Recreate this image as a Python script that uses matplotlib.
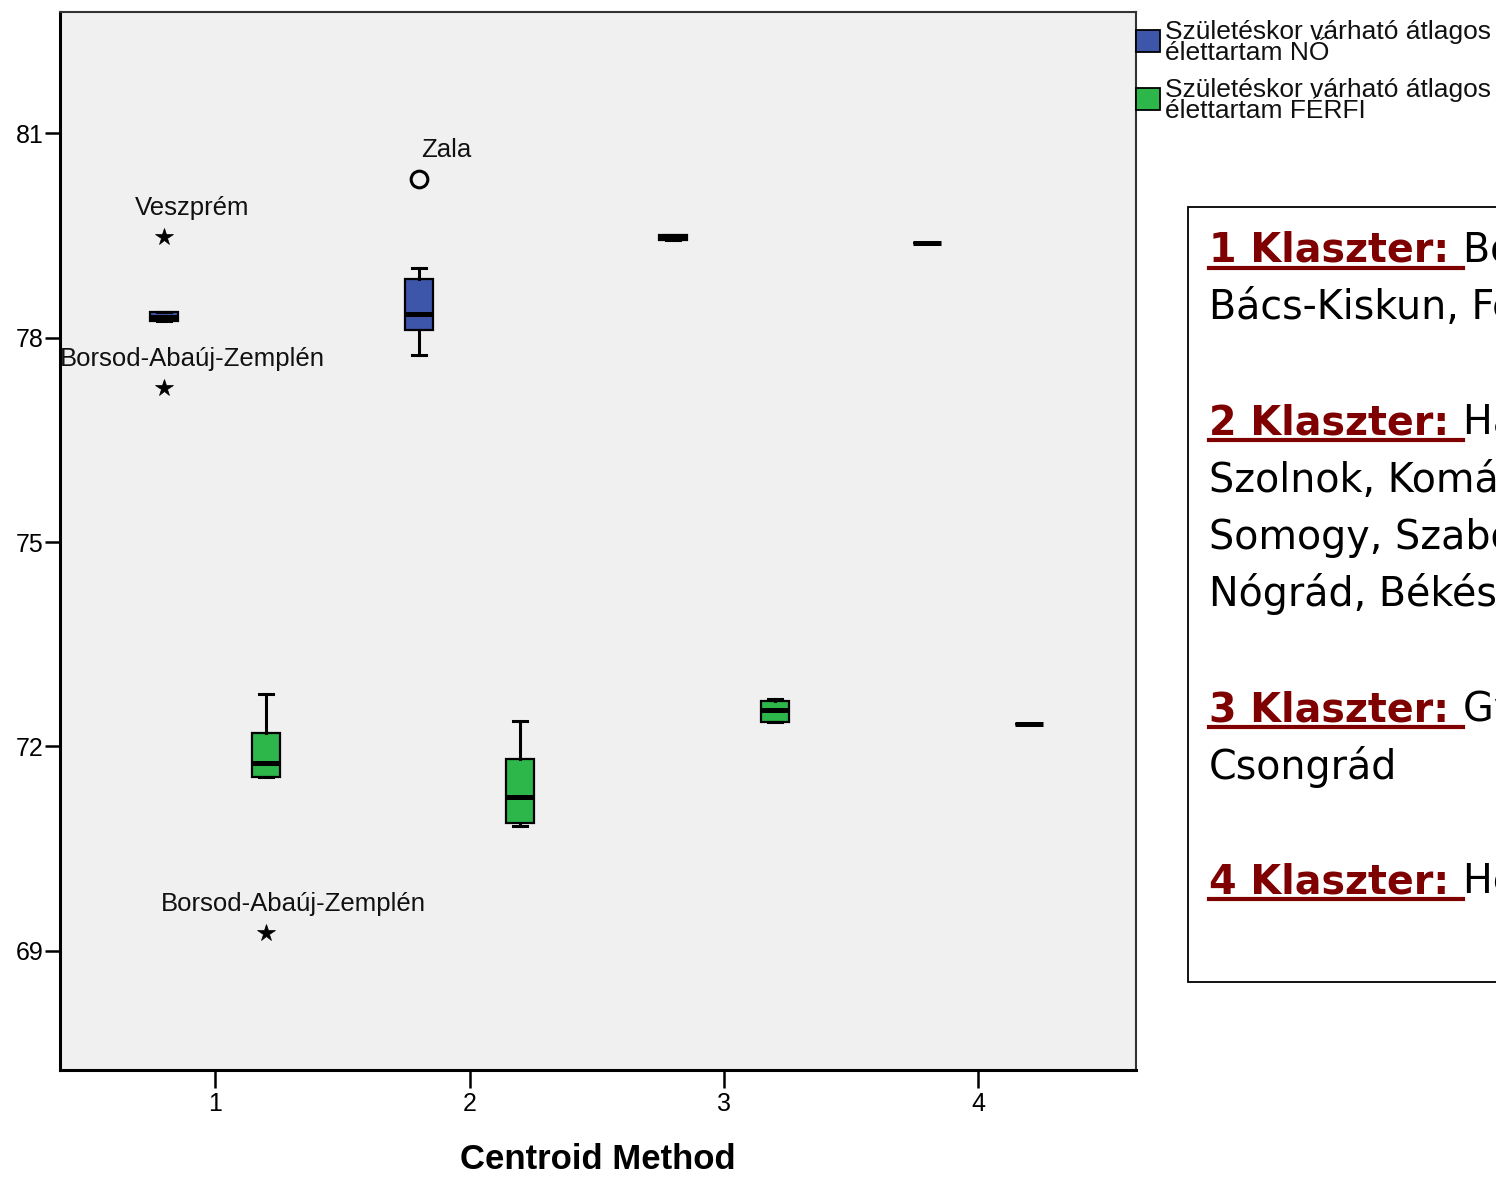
import matplotlib
matplotlib.use("Agg")
import matplotlib.pyplot as plt
from matplotlib.patches import Rectangle

# ---------------- data ----------------
clusters = [1, 2, 3, 4]
xtick_labels = ["1", "2", "3", "4"]
series_names = ["Születéskor várható átlagos\nélettartam NŐ",
                "Születéskor várható átlagos\nélettartam FÉRFI"]

# five-number summaries per cluster (NŐ = female)
no_whislo = [78.24, 77.74, 79.44, 79.39]
no_q1 = [78.24, 78.11, 79.44, 79.39]
no_med = [78.30, 78.34, 79.47, 79.39]
no_q3 = [78.37, 78.86, 79.50, 79.39]
no_whishi = [78.37, 79.02, 79.51, 79.39]

# five-number summaries per cluster (FÉRFI = male)
ferfi_whislo = [71.55, 70.83, 72.36, 72.33]
ferfi_q1 = [71.55, 70.87, 72.36, 72.33]
ferfi_med = [71.75, 71.26, 72.53, 72.33]
ferfi_q3 = [72.19, 71.82, 72.67, 72.33]
ferfi_whishi = [72.77, 72.37, 72.70, 72.33]

# labelled outliers
out_cluster = [1, 1, 2, 1]
out_series = [0, 0, 0, 1]
out_value = [79.48, 77.26, 80.33, 69.26]
out_label = ["Veszprém", "Borsod-Abaúj-Zemplén", "Zala", "Borsod-Abaúj-Zemplén"]
out_kind = ["extreme", "extreme", "outlier", "extreme"]

yticks = [69, 72, 75, 78, 81]
xlabel = "Centroid Method"

cluster_heads = ["1 Klaszter: ", "2 Klaszter: ", "3 Klaszter: ", "4 Klaszter: "]
cluster_lines = [
    ["Borsod-Abaúj-Zemplén, Veszprém,", "Bács-Kiskun, Fejér"],
    ["Hajdú-Bihar, Jász-Nagykun-", "Szolnok, Komárom-Esztergom,",
     "Somogy, Szabolcs-Szatmár-Bereg,", "Nógrád, Békés, Zala"],
    ["Győr-Moson-Sopron, Vas,", "Csongrád"],
    ["Heves, Tolna"],
]

# ---------------- style ----------------
W, H = 1496, 1177
DPI = 100
blue = "#3d56aa"
green = "#2db74a"
plot_bg = "#f0f0f0"
dark_red = "#7f0000"
offset = 0.2
box_w = 0.11
sans = ["Liberation Sans", "DejaVu Sans"]

fig = plt.figure(figsize=(W / DPI, H / DPI), dpi=DPI)
fig.patch.set_facecolor("white")

def fx(px):
    return px / W

def fy(py):
    return 1 - py / H

ax = fig.add_axes([fx(60), fy(1070), fx(1136) - fx(60), fy(12) - fy(1070)])
ax.set_facecolor(plot_bg)

def make_stats(lo, q1, med, q3, hi):
    return [dict(whislo=a, q1=b, med=c, q3=d, whishi=e, fliers=[])
            for a, b, c, d, e in zip(lo, q1, med, q3, hi)]

series_stats = [
    make_stats(no_whislo, no_q1, no_med, no_q3, no_whishi),
    make_stats(ferfi_whislo, ferfi_q1, ferfi_med, ferfi_q3, ferfi_whishi),
]
series_colors = [blue, green]
series_offsets = [-offset, offset]

for stats, col, off in zip(series_stats, series_colors, series_offsets):
    pos = [c + off for c in clusters]
    ax.bxp(stats, positions=pos, widths=box_w, patch_artist=True,
           showfliers=False, capwidths=box_w * 0.5,
           boxprops=dict(facecolor=col, edgecolor="black", linewidth=1.6),
           medianprops=dict(color="black", linewidth=3.6, solid_capstyle="butt"),
           whiskerprops=dict(color="black", linewidth=2.2),
           capprops=dict(color="black", linewidth=2.2))

for c, s, v, lab, kind in zip(out_cluster, out_series, out_value, out_label, out_kind):
    xpos = c + series_offsets[s]
    if kind == "extreme":
        ax.plot([xpos], [v], marker="*", markersize=13, color="black",
                markerfacecolor="black", markeredgewidth=0.5, zorder=5)
    else:
        ax.plot([xpos], [v], marker="o", markersize=12, markerfacecolor="none",
                markeredgecolor="black", markeredgewidth=2.2, zorder=5)
    ax.annotate(lab, (xpos, v), xytext=(20, 21), textcoords="offset points",
                ha="center", va="center", fontsize=18.5, family=sans,
                color="#111111")

ax.set_xlim(0.39, 4.62)
ax.set_ylim(67.25, 82.78)
ax.set_xticks(clusters)
ax.set_xticklabels(xtick_labels, family=sans, fontsize=18)
ax.set_yticks(yticks)
ax.set_yticklabels([str(t) for t in yticks], family=sans, fontsize=18)
ax.tick_params(axis="y", direction="out", length=11, width=1.8, pad=1)
ax.tick_params(axis="x", direction="out", length=13, width=1.8, pad=3)
for side, sp in ax.spines.items():
    sp.set_color("black" if side in ("left", "bottom") else "#333333")
    sp.set_linewidth(2.2 if side in ("left", "bottom") else 1.5)
ax.set_xlabel(xlabel, fontsize=25, fontweight="bold", family=sans, labelpad=19)

# ---------------- legend (manual) ----------------
legend_tops = [30, 88]
for top, col, name in zip(legend_tops, series_colors, series_names):
    fig.patches.append(Rectangle((fx(1136), fy(top + 22)), fx(24), fy(0) - fy(22),
                                 transform=fig.transFigure, facecolor=col,
                                 edgecolor="black", linewidth=1.3))
    fig.text(fx(1165), fy(top - 10), name, ha="left", va="top", fontsize=19,
             family=sans, linespacing=0.86, color="#111111")

# ---------------- text box ----------------
fig.patches.append(Rectangle((fx(1188), fy(982)), fx(400), fy(207) - fy(982),
                             transform=fig.transFigure, facecolor="white",
                             edgecolor="black", linewidth=1.3))

fig.canvas.draw()
renderer = fig.canvas.get_renderer()
pitch = 57.4
base0 = 262
x0 = 1209
line_idx = 0
fs = 28.5
for gi, (head, lines) in enumerate(zip(cluster_heads, cluster_lines)):
    y_px = base0 + line_idx * pitch
    t = fig.text(fx(x0), fy(y_px), head, ha="left", va="baseline", fontsize=fs,
                 fontweight="bold", color=dark_red, family="DejaVu Sans")
    bb = t.get_window_extent(renderer)
    head_w = bb.width
    fig.add_artist(plt.Line2D([fx(x0), fx(x0 + head_w)], [fy(y_px + 6), fy(y_px + 6)],
                              transform=fig.transFigure, color=dark_red, linewidth=3))
    fig.text(fx(x0 + head_w), fy(y_px), lines[0], ha="left", va="baseline",
             fontsize=fs, color="black", family="DejaVu Sans")
    line_idx += 1
    for ln in lines[1:]:
        y_px = base0 + line_idx * pitch
        fig.text(fx(x0), fy(y_px), ln, ha="left", va="baseline", fontsize=fs,
                 color="black", family="DejaVu Sans")
        line_idx += 1
    line_idx += 1

fig.savefig("out.png", dpi=DPI)
